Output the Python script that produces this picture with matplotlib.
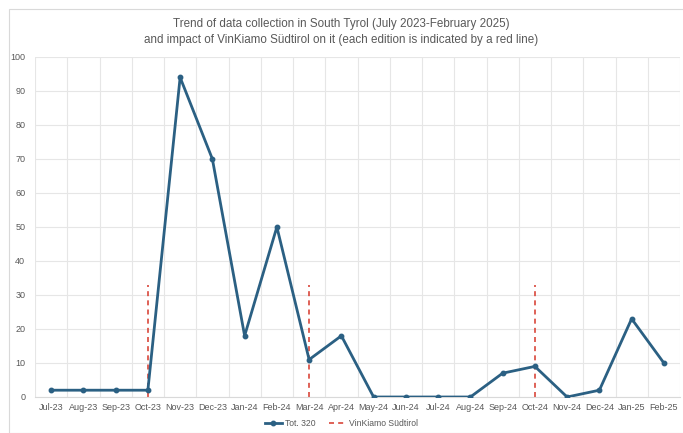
import matplotlib.pyplot as plt
import numpy as np

plt.rcParams['font.family'] = ['Liberation Sans', 'DejaVu Sans']

months = ["Jul-23", "Aug-23", "Sep-23", "Oct-23", "Nov-23", "Dec-23", "Jan-24", "Feb-24",
          "Mar-24", "Apr-24", "May-24", "Jun-24", "Jul-24", "Aug-24", "Sep-24", "Oct-24",
          "Nov-24", "Dec-24", "Jan-25", "Feb-25"]
collected = [2, 2, 2, 2, 94, 70, 18, 50, 11, 18, 0, 0, 0, 0, 7, 9, 0, 2, 23, 10]
editions = ["Oct-23", "Mar-24", "Oct-24"]
edition_height = 33

blue = '#2B6083'
red = '#D9473B'
grey = '#595959'

fig = plt.figure(figsize=(6.83, 4.33), dpi=100)
# chart-area frame
fig.patches.append(plt.Rectangle((9/683, 0), 1, 1 - 9/433, transform=fig.transFigure,
                                 fill=False, edgecolor='#D9D9D9', lw=0.8))
ax = fig.add_axes([35/683, 1 - 397/433, 645/683, 340/433])

x = np.arange(len(months))
ax.plot(x, collected, color=blue, lw=2, marker='o', ms=3.2, label='Tot. 320', zorder=3)
for i, e in enumerate(editions):
    xe = months.index(e)
    ax.plot([xe, xe], [0, edition_height], color=red, lw=1.2, ls=(0, (3, 2.5)),
            label='VinKiamo Südtirol' if i == 0 else None, zorder=2)

ax.set_xlim(-0.5, len(months) - 0.5)
ax.set_ylim(0, 100)
ax.set_yticks(np.arange(0, 101, 10))
ax.set_xticks(x)
ax.set_xticklabels(months)
ax.set_xticks(np.arange(-0.5, len(months)), minor=True)
ax.grid(True, which='minor', axis='x', color='#E6E6E6', lw=0.8)
ax.grid(True, which='major', axis='y', color='#E6E6E6', lw=0.8)
ax.tick_params(which='both', length=0, labelsize=6.5, labelcolor=grey)
ax.tick_params(axis='x', pad=4)
ax.tick_params(axis='y', pad=7)
for s in ['top', 'right', 'left']:
    ax.spines[s].set_visible(False)
ax.spines['bottom'].set_color('#D9D9D9')
ax.set_axisbelow(True)

fig.text(0.5, 1 - 24/433, "Trend of data collection in South Tyrol (July 2023-February 2025)",
         ha='center', va='center', fontsize=8.4, color=grey)
fig.text(0.5, 1 - 40/433, "and impact of VinKiamo Südtirol on it (each edition is indicated by a red line)",
         ha='center', va='center', fontsize=8.4, color=grey)

fig.legend(loc='center', bbox_to_anchor=(0.5, 1 - 424/433), ncol=2, frameon=False,
           fontsize=6.2, labelcolor=grey, handlelength=2.0, handletextpad=0.4, columnspacing=1.5)

fig.savefig('out.png', dpi=100)
